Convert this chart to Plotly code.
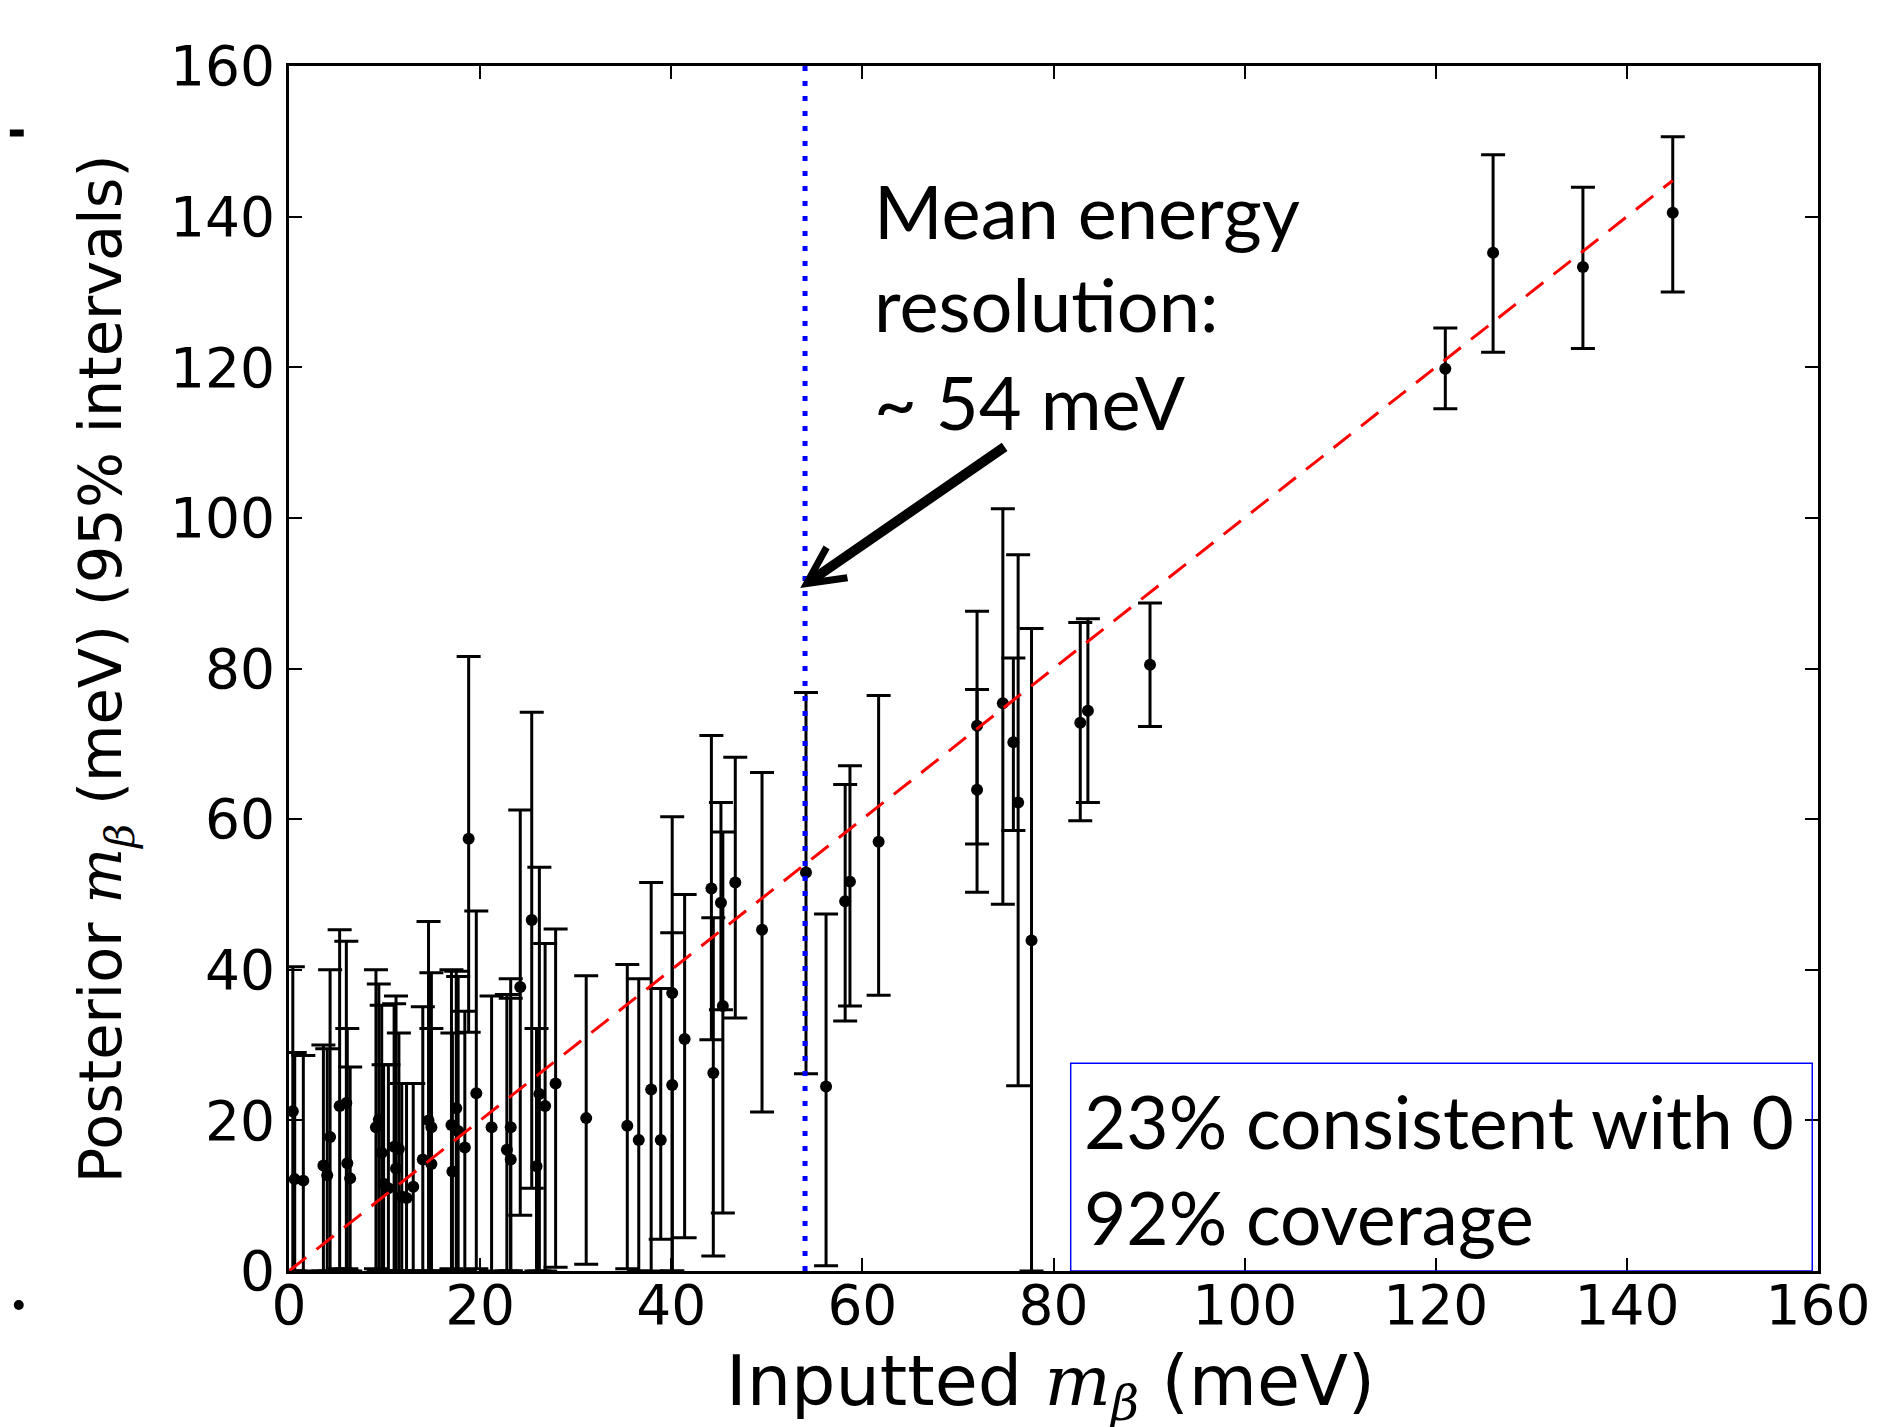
import plotly.graph_objects as go

# ---------------- data ----------------
x_input = [0.4, 0.6, 1.5, 3.6, 4.0, 4.3, 5.3, 6.0, 6.1, 6.4,
           9.1, 9.4, 9.7, 9.9, 10.4, 11.0, 11.2, 11.5, 11.8, 12.3,
           13.0, 14.0, 14.6, 14.9, 14.9, 17.0, 17.1, 17.5, 17.7, 18.4,
           18.8, 19.6, 21.2, 22.8, 23.2, 23.2, 24.2, 25.4, 25.9, 26.2,
           26.8, 27.9, 31.1, 35.4, 36.6, 37.9, 38.9, 40.1, 40.1, 41.4,
           44.2, 44.4, 45.2, 45.4, 46.7, 49.5, 54.1, 56.2, 58.2, 58.7,
           61.7, 72.0, 72.0, 74.7, 75.8, 76.3, 77.7, 82.8, 83.6, 90.1,
           121.0, 126.0, 135.4, 144.8]
y_posterior = [21.2, 12.2, 12.0, 14.0, 12.7, 17.8, 21.9, 22.3, 14.3, 12.3,
               19.1, 20.1, 15.7, 11.6, 11.0, 16.5, 13.6, 16.2, 9.9, 9.7,
               11.2, 14.8, 20.0, 19.1, 14.2, 19.4, 13.2, 21.6, 18.6, 16.4,
               57.4, 23.6, 19.1, 16.1, 14.8, 19.1, 37.7, 46.6, 13.9, 23.5,
               21.9, 24.9, 20.3, 19.3, 17.4, 24.1, 17.4, 36.9, 24.7, 30.8,
               50.8, 26.3, 48.9, 35.2, 51.6, 45.3, 52.9, 24.5, 49.1, 51.7,
               57.0, 72.4, 63.9, 75.4, 70.2, 62.2, 43.9, 72.8, 74.4, 80.5,
               119.8, 135.2, 133.3, 140.5]
y_upper = [40.4, 29.0, 28.6, 30.0, 29.5, 40.0, 45.3, 43.8, 32.2, 27.1,
           40.0, 38.1, 35.3, 27.4, 27.4, 35.5, 36.5, 31.6, 24.9, 24.9,
           24.9, 35.1, 46.4, 39.6, 32.2, 40.0, 31.6, 39.8, 39.1, 34.5,
           81.6, 47.8, 36.5, 36.7, 38.8, 36.2, 61.2, 74.2, 32.2, 53.6,
           43.5, 45.4, 39.2, 40.7, 38.8, 51.6, 37.5, 60.3, 44.9, 50.0,
           71.1, 46.9, 62.2, 58.3, 68.2, 66.2, 76.8, 47.4, 64.6, 67.1,
           76.4, 87.6, 77.2, 101.2, 81.4, 95.1, 85.3, 86.1, 86.6, 88.7,
           125.2, 148.2, 143.9, 150.6]
y_lower = [0.0, 0.0, 0.0, 0.0, 0.0, 0.0, 0.3, 0.3, 0.0, 0.0,
           0.3, 0.0, 0.0, 0.0, 0.0, 0.0, 0.0, 0.0, 0.0, 0.0,
           0.0, 0.0, 0.0, 0.0, 0.0, 0.3, 0.0, 0.0, 0.0, 0.0,
           31.7, 0.3, 0.0, 0.0, 0.0, 0.0, 7.4, 11.0, 0.0, 0.0,
           0.0, 0.5, 0.9, 0.3, 0.0, 0.0, 4.2, 0.0, 0.0, 4.4,
           30.7, 2.0, 34.7, 7.7, 33.6, 21.1, 26.2, 0.7, 33.2, 35.2,
           36.6, 56.7, 50.3, 48.7, 58.5, 24.6, 0.0, 59.8, 62.2, 72.3,
           114.5, 122.0, 122.5, 130.0]

mean_resolution = 54
tick_values = [0, 20, 40, 60, 80, 100, 120, 140, 160]
callout_lines = ["Mean energy", "resolution:", "~ 54 meV"]
box_lines = ["23% consistent with 0", "92% coverage"]

# ---------------- figure ----------------
# the page body has an 8px margin; compensate so the picture lines up
OFF = 8
W, H = 1882 - OFF, 1427 - OFF
PLOT_L, PLOT_R, PLOT_T, PLOT_B = 289, 1828, 66, 1271  # in window pixels
L = PLOT_L - OFF
T = PLOT_T - OFF
R = W - (PLOT_R - OFF)
B = H - (PLOT_B - OFF)
plot_w = PLOT_R - PLOT_L
plot_h = PLOT_B - PLOT_T


def px_x(p):
    return (p - PLOT_L) / plot_w


def px_y(p):
    return (PLOT_B - p) / plot_h


err_plus = [u - y for u, y in zip(y_upper, y_posterior)]
err_minus = [y - l for y, l in zip(y_posterior, y_lower)]

fig = go.Figure()
fig.add_trace(go.Scatter(
    x=x_input, y=y_posterior, mode="markers",
    marker=dict(color="black", size=12),
    error_y=dict(type="data", symmetric=False, array=err_plus,
                 arrayminus=err_minus, color="black", thickness=3, width=12),
    showlegend=False,
))
line_end = max(x_input)
fig.add_trace(go.Scatter(
    x=[0, line_end], y=[0, line_end], mode="lines",
    line=dict(color="red", width=3, dash="22px,13px"), showlegend=False,
))
fig.add_trace(go.Scatter(
    x=[mean_resolution, mean_resolution], y=[0, 160], mode="lines",
    line=dict(color="blue", width=5, dash="5px,10px"), showlegend=False,
))

axis_common = dict(
    range=[0, 160], tickvals=tick_values, ticks="inside", ticklen=13,
    tickwidth=1.5, tickcolor="black", showline=True, linecolor="black",
    linewidth=3, mirror="ticks", showgrid=False, zeroline=False,
    tickfont=dict(family="DejaVu Sans", size=55, color="black"),
)
fig.update_xaxes(**axis_common, ticklabelstandoff=-16)
fig.update_yaxes(**axis_common, ticklabelstandoff=0)

math_m = ('<span style="font-family:\'DejaVu Serif\';font-style:italic">m</span>'
          '<sub><span style="font-family:\'DejaVu Serif\';font-style:italic">β</span></sub>')

annotations = []
# axis titles
annotations.append(dict(
    x=px_x(1055), y=px_y(1386), xref="paper", yref="paper",
    text="Inputted " + math_m + " (meV)", showarrow=False,
    font=dict(family="DejaVu Sans", size=70, color="black"),
    xanchor="center", yanchor="middle"))
annotations.append(dict(
    x=px_x(103), y=px_y(669), xref="paper", yref="paper",
    text="Posterior " + math_m + " (meV) (95% intervals)", showarrow=False,
    textangle=-90,
    font=dict(family="DejaVu Sans", size=59, color="black"),
    xanchor="center", yanchor="middle"))

# callout text
callout_y = [140.8, 128.4, 115.4]
for txt, yy in zip(callout_lines, callout_y):
    annotations.append(dict(
        x=61.0, y=yy, xref="x", yref="y", text=txt, showarrow=False,
        font=dict(family="Lato", size=74, color="black"),
        xanchor="left", yanchor="middle"))

# arrow
annotations.append(dict(
    x=53.5, y=90.7, xref="x", yref="y", ax=75.2, ay=109.7,
    axref="x", ayref="y", text=" ", showarrow=True, arrowhead=5,
    arrowwidth=10, arrowsize=0.72, arrowcolor="black"))

# box text
box_y = [19.9, 7.2]
for txt, yy in zip(box_lines, box_y):
    annotations.append(dict(
        x=83.0, y=yy, xref="x", yref="y", text=txt, showarrow=False,
        font=dict(family="Lato", size=73, color="black"),
        xanchor="left", yanchor="middle"))

shapes = [
    dict(type="rect", xref="x", yref="y", x0=81.8, x1=159.4, y0=0, y1=27.6,
         line=dict(color="blue", width=1.5), fillcolor="rgba(0,0,0,0)"),
    # fragments of the neighbouring panel at the left edge
    dict(type="line", xref="paper", yref="paper", x0=px_x(OFF), x1=px_x(22),
         y0=px_y(133), y1=px_y(133), line=dict(color="black", width=7)),
    dict(type="circle", xref="paper", yref="paper", x0=px_x(12), x1=px_x(22),
         y0=px_y(1300), y1=px_y(1310), line=dict(width=0),
         fillcolor="black"),
]

fig.update_layout(
    width=W, height=H,
    margin=dict(l=L, r=R, t=T, b=B, pad=0),
    paper_bgcolor="white", plot_bgcolor="white",
    annotations=annotations, shapes=shapes,
    showlegend=False,
)

fig.write_html("out.html")
